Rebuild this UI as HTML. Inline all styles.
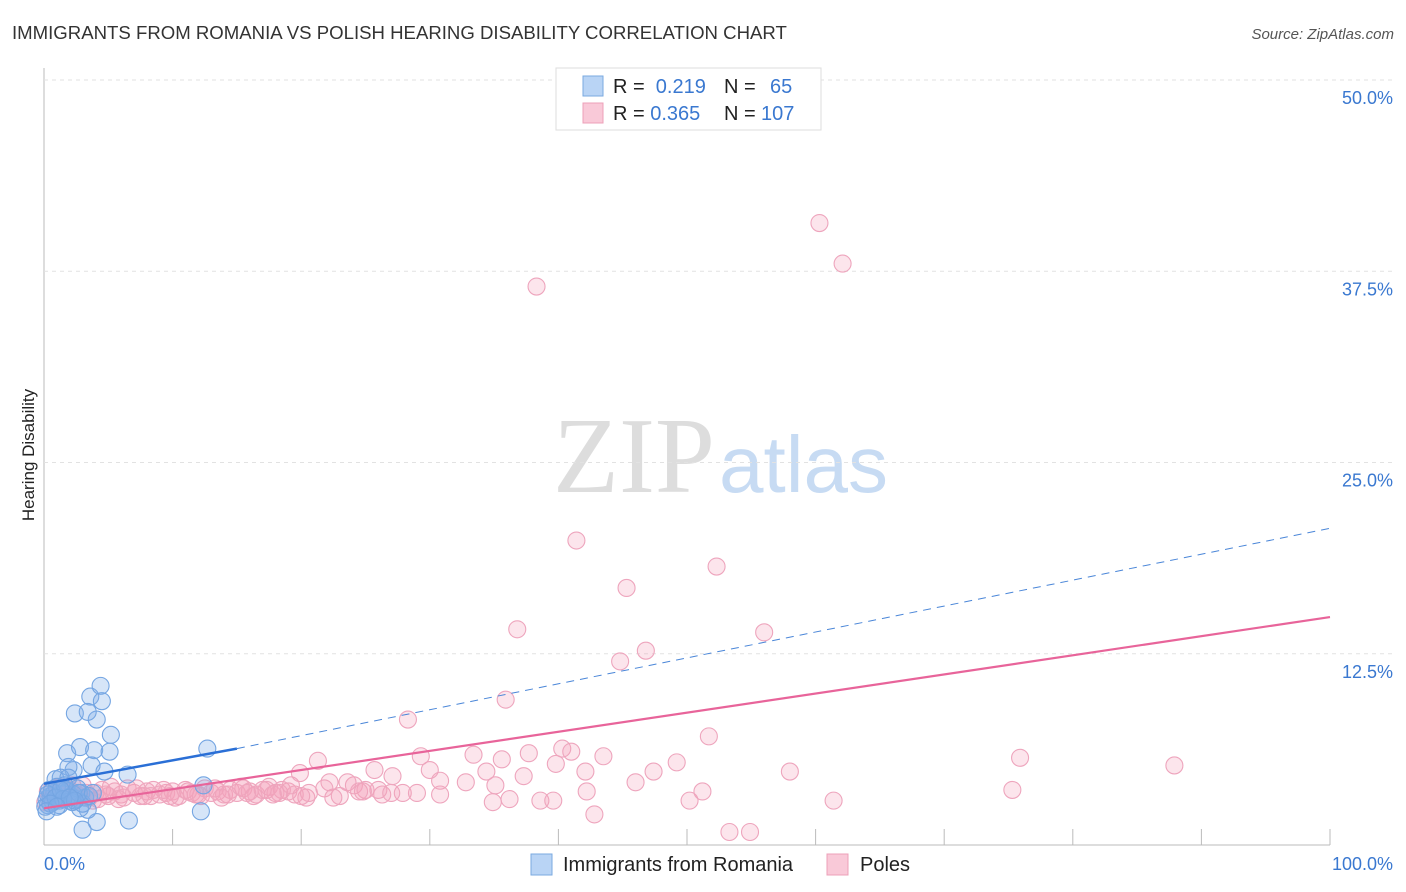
<!DOCTYPE html>
<html><head><meta charset="utf-8">
<style>
body{margin:0;background:#fff;font-family:"Liberation Sans",sans-serif;}
#wrap{position:relative;width:1406px;height:892px;overflow:hidden;}
</style></head>
<body><div id="wrap">
<svg id="svg" width="1406" height="892" xmlns="http://www.w3.org/2000/svg">
<text x="12" y="39" font-size="18.6" fill="#333">IMMIGRANTS FROM ROMANIA VS POLISH HEARING DISABILITY CORRELATION CHART</text>
<text x="1394" y="39" font-size="15" fill="#555" font-style="italic" text-anchor="end">Source: ZipAtlas.com</text>
<text x="34" y="455" font-size="17" fill="#222" transform="rotate(-90 34 455)" text-anchor="middle">Hearing Disability</text>
<text x="553" y="492" font-size="108" fill="#ddd" font-family="Liberation Serif,serif">ZIP</text>
<text x="719" y="492" font-size="80" fill="#c7dbf3">atlas</text>
<g id="grid"></g><g id="pts"></g><g id="lines"></g>
<g>
<rect x="556" y="68" width="265" height="62" fill="#fff" stroke="#ddd"/>
<rect x="583" y="76" width="20" height="20" fill="#b9d4f5" stroke="#7aaae0"/>
<rect x="583" y="103" width="20" height="20" fill="#f9c9d8" stroke="#eda0b8"/>
<text x="613" y="93" font-size="20" fill="#222">R = <tspan fill="#3a78d0">&#160;0.219</tspan><tspan x="724">N = </tspan><tspan x="770" fill="#3a78d0">65</tspan></text>
<text x="613" y="120" font-size="20" fill="#222">R = <tspan fill="#3a78d0">0.365</tspan><tspan x="724">N = </tspan><tspan x="761" fill="#3a78d0">107</tspan></text>
</g>
<g>
<rect x="531" y="854" width="21" height="21" fill="#b9d4f5" stroke="#7aaae0"/>
<text x="563" y="871" font-size="20" fill="#222">Immigrants from Romania</text>
<rect x="827" y="854" width="21" height="21" fill="#f9c9d8" stroke="#eda0b8"/>
<text x="860" y="871" font-size="20" fill="#222">Poles</text>
</g>
<text x="44" y="870" font-size="18" fill="#3a78d0">0.0%</text>
<text x="1393" y="870" font-size="18" fill="#3a78d0" text-anchor="end">100.0%</text>
</svg></div>
<script>
const yTicks=[12.5,25,37.5,50];
const yTickLabels=["12.5%","25.0%","37.5%","50.0%"];
const xTicks=[0,10,20,30,40,50,60,70,80,90,100];
const blueX=[2.4,3.6,4.4,4.5,4.1,3.4,5.2,1.8,2.8,3.9,5.1,2.3,1.9,3.7,0.9,1.3,1.9,6.5,4.7,12.7,3.0,4.1,6.6,12.2,3.4,2.8,1.2,0.3,12.4,0.2,0.5,0.8,1.1,1.5,1.8,2.1,2.5,2.9,3.2,0.4,0.7,1.0,1.4,1.7,2.0,2.3,2.6,3.0,3.5,0.1,0.6,1.2,1.6,2.2,2.7,0.3,0.9,1.5,2.4,3.8,0.5,1.3,2.0,0.2,1.0];
const blueY=[8.6,9.7,10.4,9.4,8.2,8.7,7.2,6.0,6.4,6.2,6.1,4.9,5.1,5.2,4.3,4.4,4.4,4.6,4.8,6.3,1.0,1.5,1.6,2.2,2.3,2.4,2.9,2.6,3.9,3.0,3.2,3.4,3.1,3.3,3.5,3.2,3.0,3.4,3.1,3.6,2.8,3.8,3.0,3.6,2.9,3.3,3.7,2.7,3.2,2.5,3.5,2.6,3.9,2.8,3.4,3.3,3.1,3.0,2.9,3.4,2.7,3.6,3.1,2.2,2.5];
const pinkX=[60.3,62.1,38.3,41.4,52.3,45.3,36.8,56.0,46.8,44.8,35.9,28.3,51.7,75.9,87.9,21.3,29.3,33.4,35.6,37.7,40.3,41.0,43.5,39.8,42.1,47.4,49.2,58.0,30.0,34.4,19.9,25.7,27.1,37.3,46.0,30.8,32.8,35.1,42.2,51.2,75.3,36.2,38.6,39.6,34.9,50.2,61.4,42.8,53.3,54.9,30.8,27.9,26.3,20.4,24.1,22.2,23.6,25.0,
0.3,0.8,1.2,1.6,2.0,2.5,3.0,3.5,4.0,4.5,5.0,5.5,6.0,6.5,7.0,7.5,8.0,8.5,9.0,9.5,10.0,10.5,11.0,11.5,12.0,12.5,13.0,13.5,14.0,14.5,15.0,15.5,16.0,16.5,17.0,17.5,18.0,18.5,19.0,19.5,0.5,1.0,1.5,2.2,2.8,3.3,4.2,5.2,6.2,7.2,8.3,9.3,10.2,11.2,12.2,13.3,14.3,15.3,16.3,17.3,18.3,19.2,20.6,21.8,23.0,24.5,26.0,0.1,0.6,1.9,2.6,3.8,4.8,5.8,7.8,9.8,11.8,13.8,15.8,17.8,20.0,22.5,24.8,27.0,29.0];
const pinkY=[40.65,38.0,36.5,19.9,18.2,16.8,14.1,13.9,12.7,12.0,9.5,8.2,7.1,5.7,5.2,5.5,5.8,5.9,5.6,6.0,6.3,6.1,5.8,5.3,4.8,4.8,5.4,4.8,4.9,4.8,4.7,4.9,4.5,4.5,4.1,4.2,4.1,3.9,3.5,3.5,3.6,3.0,2.9,2.9,2.8,2.9,2.9,2.0,0.85,0.85,3.3,3.4,3.3,3.1,3.9,4.1,4.1,3.6,
3.5,3.2,3.8,3.0,3.6,3.3,3.9,3.1,3.4,3.6,3.2,3.5,3.3,3.7,3.4,3.2,3.5,3.6,3.3,3.4,3.5,3.2,3.6,3.4,3.3,3.7,3.4,3.5,3.3,3.6,3.4,3.7,3.5,3.3,3.6,3.8,3.4,3.6,3.5,3.3,3.0,3.7,3.1,3.9,3.2,3.4,3.0,3.8,3.1,3.7,3.2,3.6,3.1,3.5,3.2,3.7,3.3,3.8,3.2,3.6,3.4,3.9,3.4,3.7,3.2,3.5,3.6,2.8,3.6,3.4,3.1,2.9,3.3,3.0,3.2,3.2,3.3,3.1,3.4,3.3,3.2,3.1,3.5,3.4,3.4];
const blueTrend=[[0,4.0],[15,6.3],[100,20.7]];
const pinkTrend=[[0,2.4],[100,14.9]];
const NS="http://www.w3.org/2000/svg";
const X0=44,X1=1330,Y0=845,YPER=15.3;
const xs=v=>X0+(X1-X0)*v/100;
const ys=v=>Y0-YPER*v;
function mk(tag,attrs,parent){const e=document.createElementNS(NS,tag);for(const k in attrs)e.setAttribute(k,attrs[k]);parent.appendChild(e);return e;}
const grid=document.getElementById('grid'),pts=document.getElementById('pts'),lines=document.getElementById('lines'),svg=document.getElementById('svg');
let ax=mk('line',{x1:X0,y1:68,x2:X0,y2:Y0,stroke:'#bbb'},grid);


let bx=mk('line',{x1:X0,y1:Y0,x2:X1,y2:Y0,stroke:'#bbb'},grid);


yTicks.forEach((t,i)=>{
 const g=mk('line',{x1:X0,y1:ys(t),x2:1394,y2:ys(t),stroke:'#e2e2e2','stroke-dasharray':'4,4'},grid);
 
 
 const l=mk('text',{x:1393,y:ys(t)+24,'font-size':18,fill:'#3a78d0','text-anchor':'end'},grid);
 l.textContent=yTickLabels[i];
 
 
});
xTicks.forEach(t=>{
 const k=mk('line',{x1:xs(t),y1:Y0-16,x2:xs(t),y2:Y0,stroke:'#bbb'},grid);
 
 
});
pinkX.forEach((x,i)=>{
 const c=mk('circle',{cx:xs(x),cy:ys(pinkY[i]),r:8.5,fill:'rgba(244,160,188,0.28)',stroke:'#eea5bd','stroke-width':1.1},pts);
 
 
});
blueX.forEach((x,i)=>{
 const c=mk('circle',{cx:xs(x),cy:ys(blueY[i]),r:8.5,fill:'rgba(130,175,235,0.33)',stroke:'#74a5e2','stroke-width':1.1},pts);
 
 
});
let b1=mk('line',{x1:xs(blueTrend[0][0]),y1:ys(blueTrend[0][1]),x2:xs(blueTrend[1][0]),y2:ys(blueTrend[1][1]),stroke:'#2a6fd6','stroke-width':2.5},lines);


let b2=mk('line',{x1:xs(blueTrend[1][0]),y1:ys(blueTrend[1][1]),x2:xs(blueTrend[2][0]),y2:ys(blueTrend[2][1]),stroke:'#4a86d8','stroke-width':1,'stroke-dasharray':'8,6'},lines);


let p1=mk('line',{x1:xs(pinkTrend[0][0]),y1:ys(pinkTrend[0][1]),x2:xs(pinkTrend[1][0]),y2:ys(pinkTrend[1][1]),stroke:'#e8649a','stroke-width':2.2},lines);


</script>
</body></html>
